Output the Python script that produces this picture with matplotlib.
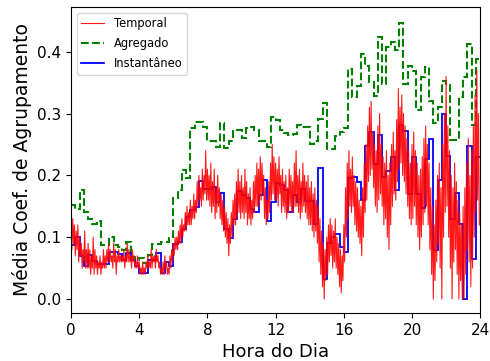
import numpy as np
import matplotlib
matplotlib.use("Agg")
import matplotlib.pyplot as plt

# coeficiente de agrupamento médio ao longo do dia
# Instantâneo e Agregado: janelas de 15 minutos
INSTANTANEO = [
    0.087, 0.101, 0.069, 0.053, 0.071, 0.062, 0.056, 0.056,
    0.056, 0.076, 0.076, 0.073, 0.063, 0.075, 0.063, 0.053,
    0.042, 0.042, 0.063, 0.063, 0.074, 0.042, 0.060, 0.053,
    0.089, 0.092, 0.114, 0.133, 0.144, 0.149, 0.191, 0.178,
    0.178, 0.181, 0.157, 0.171, 0.114, 0.098, 0.129, 0.175,
    0.168, 0.164, 0.145, 0.141, 0.168, 0.193, 0.127, 0.157,
    0.188, 0.184, 0.176, 0.141, 0.168, 0.157, 0.178, 0.159,
    0.159, 0.121, 0.212, 0.033, 0.091, 0.100, 0.106, 0.084,
    0.076, 0.195, 0.198, 0.189, 0.161, 0.248, 0.270, 0.219,
    0.266, 0.198, 0.207, 0.229, 0.177, 0.282, 0.271, 0.170,
    0.229, 0.170, 0.148, 0.227, 0.259, 0.080, 0.192, 0.300,
    0.232, 0.130, 0.171, 0.122, 0.000, 0.247, 0.064, 0.229,
]

AGREGADO = [
    0.152, 0.145, 0.176, 0.140, 0.130, 0.121, 0.127, 0.087,
    0.087, 0.100, 0.087, 0.084, 0.080, 0.092, 0.068, 0.063,
    0.066, 0.058, 0.071, 0.089, 0.089, 0.092, 0.092, 0.098,
    0.163, 0.177, 0.208, 0.195, 0.276, 0.286, 0.286, 0.278,
    0.256, 0.256, 0.246, 0.285, 0.245, 0.256, 0.271, 0.273,
    0.261, 0.277, 0.279, 0.274, 0.256, 0.256, 0.246, 0.294,
    0.289, 0.273, 0.268, 0.266, 0.267, 0.282, 0.278, 0.278,
    0.251, 0.256, 0.291, 0.317, 0.242, 0.242, 0.263, 0.270,
    0.276, 0.372, 0.326, 0.344, 0.397, 0.377, 0.351, 0.329,
    0.424, 0.348, 0.408, 0.415, 0.403, 0.446, 0.348, 0.377,
    0.369, 0.305, 0.359, 0.376, 0.321, 0.284, 0.311, 0.353,
    0.348, 0.258, 0.258, 0.326, 0.359, 0.412, 0.281, 0.388,
]

# Temporal: amostras a cada 3 minutos (uma linha por hora)
TEMPORAL = [
    0.11, 0.08, 0.13, 0.09, 0.12, 0.07, 0.11, 0.08, 0.12, 0.06, 0.10, 0.07, 0.09, 0.05, 0.08, 0.06, 0.11, 0.05, 0.08, 0.05,
    0.09, 0.05, 0.08, 0.04, 0.07, 0.05, 0.10, 0.04, 0.08, 0.05, 0.07, 0.04, 0.06, 0.05, 0.07, 0.04, 0.06, 0.05, 0.08, 0.05,
    0.07, 0.05, 0.08, 0.06, 0.09, 0.06, 0.08, 0.06, 0.07, 0.05, 0.09, 0.06, 0.08, 0.04, 0.07, 0.06, 0.08, 0.06, 0.07, 0.06,
    0.07, 0.06, 0.08, 0.05, 0.07, 0.06, 0.09, 0.06, 0.08, 0.06, 0.07, 0.05, 0.08, 0.06, 0.07, 0.05, 0.06, 0.05, 0.07, 0.05,
    0.06, 0.04, 0.05, 0.04, 0.06, 0.04, 0.05, 0.04, 0.06, 0.05, 0.07, 0.05, 0.06, 0.05, 0.08, 0.05, 0.07, 0.06, 0.07, 0.05,
    0.08, 0.06, 0.07, 0.05, 0.06, 0.04, 0.05, 0.04, 0.06, 0.04, 0.07, 0.05, 0.06, 0.04, 0.05, 0.04, 0.07, 0.05, 0.08, 0.06,
    0.09, 0.07, 0.10, 0.08, 0.10, 0.08, 0.11, 0.09, 0.12, 0.09, 0.13, 0.10, 0.12, 0.11, 0.14, 0.11, 0.15, 0.12, 0.14, 0.12,
    0.16, 0.12, 0.15, 0.13, 0.17, 0.13, 0.16, 0.14, 0.19, 0.15, 0.20, 0.16, 0.18, 0.15, 0.21, 0.16, 0.20, 0.17, 0.24, 0.16,
    0.21, 0.16, 0.20, 0.15, 0.22, 0.14, 0.19, 0.15, 0.21, 0.13, 0.18, 0.14, 0.20, 0.15, 0.18, 0.13, 0.17, 0.12, 0.16, 0.11,
    0.15, 0.10, 0.14, 0.09, 0.13, 0.07, 0.12, 0.09, 0.14, 0.10, 0.16, 0.12, 0.17, 0.12, 0.19, 0.13, 0.21, 0.14, 0.19, 0.13,
    0.20, 0.14, 0.18, 0.13, 0.21, 0.14, 0.19, 0.12, 0.17, 0.13, 0.18, 0.12, 0.16, 0.13, 0.19, 0.14, 0.20, 0.15, 0.22, 0.15,
    0.21, 0.15, 0.23, 0.16, 0.22, 0.17, 0.20, 0.13, 0.18, 0.12, 0.16, 0.13, 0.19, 0.14, 0.22, 0.16, 0.25, 0.17, 0.23, 0.16,
    0.22, 0.16, 0.21, 0.15, 0.23, 0.17, 0.20, 0.14, 0.21, 0.15, 0.19, 0.14, 0.20, 0.13, 0.18, 0.14, 0.21, 0.15, 0.20, 0.14,
    0.19, 0.14, 0.22, 0.15, 0.24, 0.15, 0.20, 0.14, 0.21, 0.13, 0.19, 0.14, 0.22, 0.15, 0.20, 0.14, 0.19, 0.13, 0.20, 0.12,
    0.18, 0.12, 0.19, 0.11, 0.17, 0.10, 0.18, 0.11, 0.16, 0.09, 0.15, 0.06, 0.13, 0.04, 0.11, 0.02, 0.09, 0.00, 0.08, 0.03,
    0.10, 0.04, 0.12, 0.06, 0.13, 0.07, 0.12, 0.05, 0.11, 0.06, 0.13, 0.05, 0.10, 0.04, 0.09, 0.02, 0.08, 0.01, 0.07, 0.03,
    0.12, 0.06, 0.18, 0.10, 0.22, 0.13, 0.24, 0.15, 0.21, 0.14, 0.23, 0.15, 0.20, 0.12, 0.19, 0.11, 0.18, 0.10, 0.16, 0.09,
    0.15, 0.07, 0.18, 0.10, 0.22, 0.14, 0.25, 0.16, 0.28, 0.19, 0.31, 0.20, 0.32, 0.21, 0.27, 0.18, 0.25, 0.15, 0.24, 0.14,
    0.28, 0.16, 0.30, 0.17, 0.25, 0.15, 0.23, 0.12, 0.22, 0.13, 0.24, 0.10, 0.20, 0.08, 0.22, 0.12, 0.25, 0.15, 0.27, 0.17,
    0.24, 0.16, 0.29, 0.19, 0.34, 0.21, 0.31, 0.22, 0.33, 0.20, 0.30, 0.19, 0.28, 0.17, 0.26, 0.15, 0.24, 0.13, 0.22, 0.12,
    0.25, 0.13, 0.27, 0.15, 0.24, 0.12, 0.22, 0.10, 0.20, 0.08, 0.21, 0.10, 0.23, 0.12, 0.26, 0.14, 0.28, 0.15, 0.25, 0.12,
    0.22, 0.08, 0.18, 0.04, 0.15, 0.00, 0.12, 0.03, 0.16, 0.06, 0.20, 0.09, 0.22, 0.05, 0.18, 0.00, 0.25, 0.10, 0.30, 0.14,
    0.36, 0.15, 0.28, 0.10, 0.24, 0.05, 0.20, 0.00, 0.18, 0.06, 0.22, 0.08, 0.19, 0.04, 0.16, 0.00, 0.14, 0.03, 0.12, 0.00,
    0.15, 0.00, 0.18, 0.04, 0.22, 0.08, 0.26, 0.06, 0.20, 0.02, 0.24, 0.05, 0.28, 0.10, 0.33, 0.14, 0.37, 0.16, 0.30, 0.12,
]

HORAS_TICKS = [0, 4, 8, 12, 16, 20, 24]

# eixos de tempo (horas)
t_temporal = np.arange(len(TEMPORAL)) * 24 / len(TEMPORAL)
bordas = np.linspace(0, 24, len(INSTANTANEO) + 1)

fig = plt.figure(figsize=(4.9, 3.61), dpi=100)
ax = fig.add_axes([0.145, 0.133, 0.835, 0.848])

ax.plot(t_temporal, TEMPORAL, color="red", lw=0.8, alpha=0.9, label="Temporal")
ax.stairs(AGREGADO, bordas, baseline=None, color="green", lw=1.5, ls="--", label="Agregado")
ax.stairs(INSTANTANEO, bordas, baseline=None, color="blue", lw=1.3, label="Instantâneo")

ax.set_xlim(0, 24)
ax.set_ylim(-0.0225, 0.4725)
ax.set_xticks(HORAS_TICKS)
ax.set_yticks([0.0, 0.1, 0.2, 0.3, 0.4])
ax.tick_params(labelsize=11)
ax.set_xlabel("Hora do Dia", fontsize=13)
ax.set_ylabel("Média Coef. de Agrupamento", fontsize=13.5)
ax.legend(loc="upper left", fontsize=8.3, labelspacing=0.6)

fig.savefig("out.png", dpi=100)
